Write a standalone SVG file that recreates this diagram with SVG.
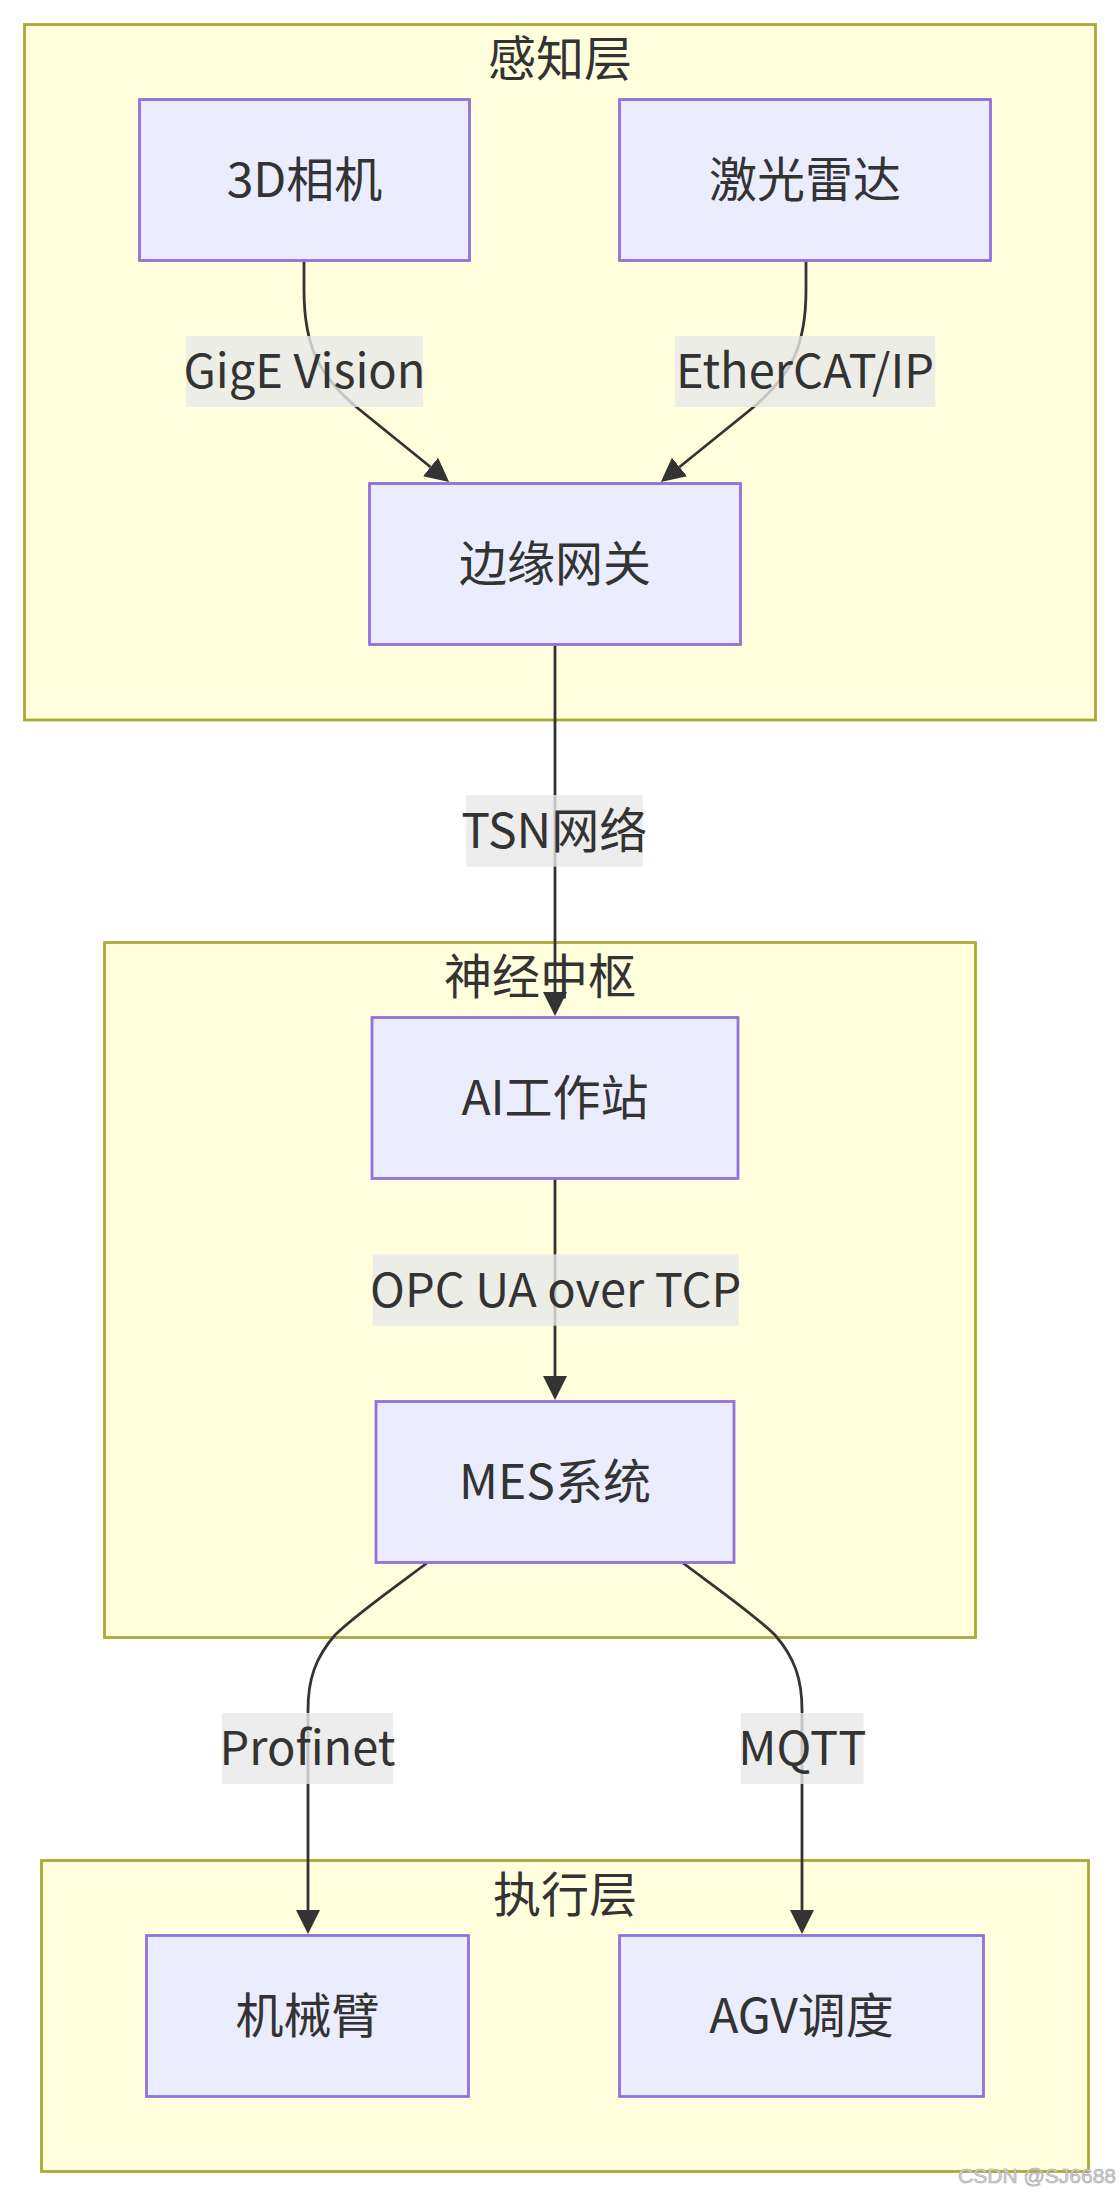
<svg xmlns="http://www.w3.org/2000/svg" width="1120" height="2196" viewBox="0 0 1120 2196">
<defs>
<style>
.cluster rect{fill:#ffffde;stroke:#aaaa33;stroke-width:2.8}
.node rect{fill:#ececff;stroke:#9370db;stroke-width:2.8}
text{font-family:"Noto Sans CJK SC","Noto Sans",sans-serif;font-size:48px;fill:#333333;text-anchor:middle;dominant-baseline:central}
text.lat{font-size:47px}
.edge{fill:none;stroke:#333333;stroke-width:2.8;stroke-linecap:butt}
.lbl rect{fill:#e8e8e8;fill-opacity:0.8}
.wm{font-family:"Liberation Sans",Arial,sans-serif;font-size:21px;fill:#d4d4d4;stroke:#a8a8a8;stroke-width:0.6;text-anchor:end;dominant-baseline:alphabetic}
</style>
<marker id="arrow" viewBox="0 0 10 10" refX="0" refY="5" markerUnits="userSpaceOnUse" markerWidth="24" markerHeight="24" orient="auto">
<path d="M0,0 L10,5 L0,10 z" fill="#333333"/>
</marker>
</defs>
<rect width="1120" height="2196" fill="#ffffff"/>
<g id="clusters">
<g id="cluster-perception" class="cluster"><rect x="24.5" y="24.5" width="1071" height="695.5"/><text x="560" y="55">感知层</text></g>
<g id="cluster-hub" class="cluster"><rect x="104.5" y="942.5" width="871" height="695"/><text x="540" y="973">神经中枢</text></g>
<g id="cluster-exec" class="cluster"><rect x="41.5" y="1860.5" width="1047" height="311"/><text x="565" y="1891">执行层</text></g>
</g>
<g id="connectors">
<path class="edge" d="M304,261 L304,290 C304,345 318,376 360,410 L430.5,467" marker-end="url(#arrow)"/>
<path class="edge" d="M806,261 L806,290 C806,345 792,376 750,410 L679.5,467" marker-end="url(#arrow)"/>
<path class="edge" d="M555,644 L555,992" marker-end="url(#arrow)"/>
<path class="edge" d="M555,1179 L555,1376" marker-end="url(#arrow)"/>
<path class="edge" d="M427,1563 C395,1587 355,1615 335,1635 C315,1658 308,1680 308,1710 L308,1910" marker-end="url(#arrow)"/>
<path class="edge" d="M683,1563 C715,1587 755,1615 775,1635 C795,1658 802,1680 802,1710 L802,1910" marker-end="url(#arrow)"/>
</g>
<g id="edge-labels">
<g class="lbl"><rect x="186" y="336" width="237" height="71"/><text class="lat" x="304.5" y="367.5">GigE Vision</text></g>
<g class="lbl"><rect x="674.7" y="336" width="260.6" height="71"/><text class="lat" x="805" y="367.5">EtherCAT/IP</text></g>
<g class="lbl"><rect x="466" y="795" width="176.7" height="71.7"/><text x="554.3" y="827">TSN网络</text></g>
<g class="lbl"><rect x="372.7" y="1254.3" width="366" height="71.4"/><text class="lat" x="555.7" y="1286">OPC UA over TCP</text></g>
<g class="lbl"><rect x="222" y="1713" width="171" height="71"/><text class="lat" x="307.5" y="1744.5">Profinet</text></g>
<g class="lbl"><rect x="741" y="1713" width="122.6" height="71"/><text class="lat" x="802.3" y="1744.5">MQTT</text></g>
</g>
<g id="node-camera" class="node"><rect x="139.5" y="99.5" width="330" height="161"/><text x="304.5" y="176">3D相机</text></g>
<g id="node-lidar" class="node"><rect x="619.5" y="99.5" width="371" height="161"/><text x="805" y="176">激光雷达</text></g>
<g id="node-gateway" class="node"><rect x="369.5" y="483.5" width="371" height="161"/><text x="555" y="560">边缘网关</text></g>
<g id="node-ai" class="node"><rect x="372" y="1017.5" width="366" height="161"/><text x="555" y="1094">AI工作站</text></g>
<g id="node-mes" class="node"><rect x="376" y="1401.5" width="358" height="161"/><text x="555" y="1478">MES系统</text></g>
<g id="node-arm" class="node"><rect x="146.5" y="1935.5" width="322" height="161"/><text x="307.5" y="2012">机械臂</text></g>
<g id="node-agv" class="node"><rect x="619.5" y="1935.5" width="364" height="161"/><text x="801.5" y="2012">AGV调度</text></g>
<text class="wm" x="1116" y="2183">CSDN @SJ6688</text>
</svg>
